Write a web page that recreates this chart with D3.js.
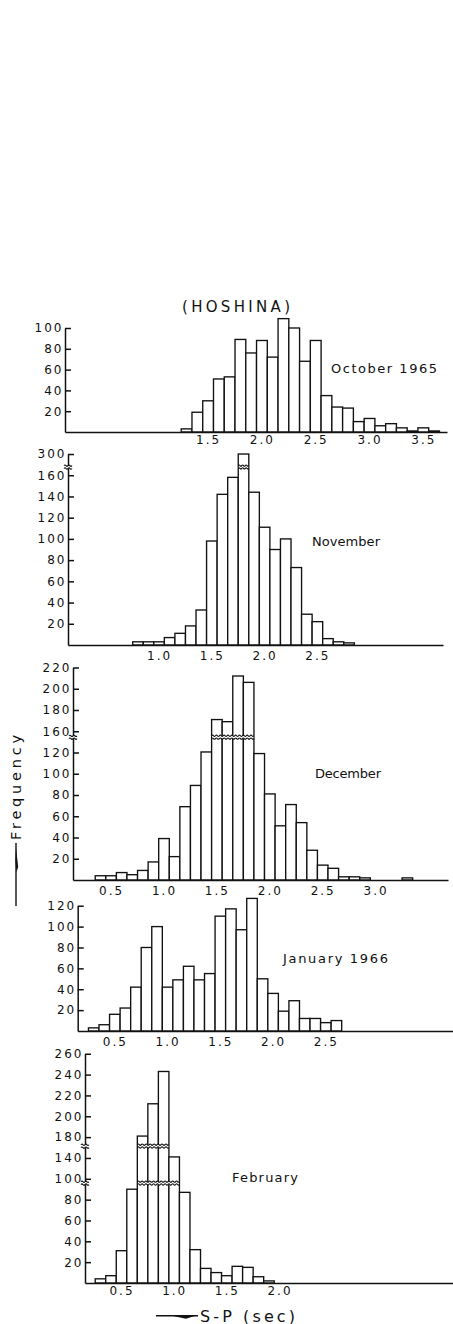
<!DOCTYPE html>
<html><head>
<meta charset="utf-8">
<title>Hoshina S-P histograms</title>
<script src="https://cdn.jsdelivr.net/npm/d3@7"></script>
<style>
  body { margin: 0; background: #fff; }
  text { font-family: "DejaVu Sans", sans-serif; fill: #111; }
  .axis path, .axis line { stroke: #111; stroke-width: 1.5; }
  .axis text { font-size: 12px; letter-spacing: 2px; }
  .bar { fill: #fff; stroke: #111; stroke-width: 1.35; }
</style>
</head>
<body>
<svg id="chart" width="453" height="1324"></svg>

<script>
// --- data: S-P bins (sec) and counts per month
const octBins   = [1.3,1.4,1.5,1.6,1.7,1.8,1.9,2.0,2.1,2.2,2.3,2.4,2.5,2.6,2.7,2.8,2.9,3.0,3.1,3.2,3.3,3.4,3.5,3.6];
const octCounts = [3,19,30,51,53,89,76,88,72,109,100,68,88,35,24,23,10,13,6,8,4,1,4,1];

const novBins   = [0.8,0.9,1.0,1.1,1.2,1.3,1.4,1.5,1.6,1.7,1.8,1.9,2.0,2.1,2.2,2.3,2.4,2.5,2.6,2.7,2.8];
const novCounts = [3,3,3,7,11,18,33,98,142,158,300,144,111,90,100,73,29,22,6,3,2];

const decBins   = [0.4,0.5,0.6,0.7,0.8,0.9,1.0,1.1,1.2,1.3,1.4,1.5,1.6,1.7,1.8,1.9,2.0,2.1,2.2,2.3,2.4,2.5,2.6,2.7,2.8,2.9,3.0,3.1,3.2,3.3];
const decCounts = [4,4,7,5,9,17,39,22,69,89,121,171,169,212,206,119,81,51,71,54,28,14,11,3,3,2,0,0,0,2];

const janBins   = [0.3,0.4,0.5,0.6,0.7,0.8,0.9,1.0,1.1,1.2,1.3,1.4,1.5,1.6,1.7,1.8,1.9,2.0,2.1,2.2,2.3,2.4,2.5,2.6];
const janCounts = [3,6,16,22,42,80,100,42,49,62,49,55,110,117,97,127,50,36,19,29,12,12,8,10];

const febBins   = [0.3,0.4,0.5,0.6,0.7,0.8,0.9,1.0,1.1,1.2,1.3,1.4,1.5,1.6,1.7,1.8,1.9];
const febCounts = [4,7,31,90,181,212,243,142,87,32,14,10,7,16,15,6,2];

// tick labels
const octYTicks = [20,40,60,80,100];
const novYTicks = [20,40,60,80,100,120,140,160,300];
const decYTicks = [20,40,60,80,100,120,160,180,200,220];
const janYTicks = [20,40,60,80,100,120];
const febYTicks = [20,40,60,80,100,140,180,200,220,240,260];

const octXTicks = [1.5,2.0,2.5,3.0,3.5];
const novXTicks = [1.0,1.5,2.0,2.5];
const decXTicks = [0.5,1.0,1.5,2.0,2.5,3.0];
const janXTicks = [0.5,1.0,1.5,2.0,2.5];
const febXTicks = [0.5,1.0,1.5,2.0];

// broken frequency axes: value where the axis jumps
const novBreaks = [215];
const decBreaks = [149];
const febBreaks = [96, 163];

const svg = d3.select("#chart");
svg.append("rect").attr("width", 453).attr("height", 1324).attr("fill", "#fff");

// layout of each panel (positions only)
const panels = [
  {bins: octBins, counts: octCounts, yt: octYTicks, xt: octXTicks, breaks: [],
   yDom: [0,100], yPos: [0,100], unit: 1.04, base: 432, left: 65, right: 447, lo: 0.17, hi: 3.72, pad: 3.7,
   label: "October 1965", lx: 331, ly: 372.7, lw: 106},
  {bins: novBins, counts: novCounts, yt: novYTicks, xt: novXTicks, breaks: novBreaks,
   yDom: [0,160,300], yPos: [0,160,180], unit: 1.061, base: 645, left: 68, right: 443, lo: 0.137, hi: 3.69, pad: 6.5,
   label: "November", lx: 312, ly: 545.5, lw: 68},
  {bins: decBins, counts: decCounts, yt: decYTicks, xt: decXTicks, breaks: decBreaks,
   yDom: [0,120,160,220], yPos: [0,120,140,200], unit: 1.0625, base: 880, left: 73, right: 448, lo: 0.14, hi: 3.684, pad: 6,
   label: "December", lx: 315, ly: 777.5, lw: 66},
  {bins: janBins, counts: janCounts, yt: janYTicks, xt: janXTicks, breaks: [],
   yDom: [0,120], yPos: [0,120], unit: 1.044, base: 1031, left: 77.7, right: 453, lo: 0.148, hi: 3.705, pad: 6.5,
   label: "January 1966", lx: 283, ly: 962.5, lw: 105},
  {bins: febBins, counts: febCounts, yt: febYTicks, xt: febXTicks, breaks: febBreaks,
   yDom: [0,100,140,180,260], yPos: [0,100,120,140,220], unit: 1.042, base: 1283, left: 85, right: 453, lo: 0.153, hi: 3.648, pad: 3.7,
   label: "February", lx: 232, ly: 1181.5, lw: 66}
];

// little wavy stroke, used for breaks
function wave(x0, x1, y) {
  const n = Math.max(1, Math.round((x1 - x0) / 4));
  const step = (x1 - x0) / n;
  let d = "M" + x0 + "," + y;
  for (let i = 0; i < n; i++) d += " q" + (step/4) + ",-1.3 " + (step/2) + ",0 t" + (step/2) + ",0";
  return d;
}

panels.forEach(p => {
  const x = d3.scaleLinear().domain([p.lo, p.hi]).range([p.left, p.right]);
  const y = d3.scaleLinear().domain(p.yDom).range(p.yPos.map(v => p.base - v * p.unit));
  const g = svg.append("g");

  const data = p.bins.map((b, i) => ({bin: b, n: p.counts[i]})).filter(d => d.n > 0);

  g.selectAll("rect.bar")
    .data(data)
    .join("rect")
      .attr("class", "bar")
      .attr("x", d => x(d.bin - 0.05))
      .attr("width", d => x(d.bin + 0.05) - x(d.bin - 0.05))
      .attr("y", d => y(d.n))
      .attr("height", d => p.base - y(d.n));

  // double wavy break lines across the tall bars
  p.breaks.forEach(bv => {
    const tall = data.filter(d => d.n > bv);
    const x0 = x(d3.min(tall, d => d.bin) - 0.05);
    const x1 = x(d3.max(tall, d => d.bin) + 0.05);
    const yb = y(bv);
    g.append("rect").attr("x", x0 + 0.6).attr("y", yb - 1.2).attr("width", x1 - x0 - 1.2).attr("height", 2.6).attr("fill", "#fff");
    [yb - 1.3, yb + 1.5].forEach(yy => {
      g.append("path").attr("d", wave(x0, x1, yy)).attr("fill", "none").attr("stroke", "#111").attr("stroke-width", 1.1);
    });
  });

  g.append("g")
    .attr("class", "axis")
    .attr("transform", "translate(0," + p.base + ")")
    .call(d3.axisBottom(x).tickValues(p.xt).tickSize(0).tickSizeOuter(0).tickPadding(p.pad).tickFormat(d3.format(".1f")));

  g.append("g")
    .attr("class", "axis")
    .attr("transform", "translate(" + p.left + ",0)")
    .call(d3.axisLeft(y).tickValues(p.yt).tickSize(-6).tickSizeOuter(0).tickPadding(1.5));

  // break marks on the frequency axis
  p.breaks.forEach(bv => {
    const yb = y(bv);
    g.append("rect").attr("x", p.left - 1.5).attr("y", yb - 1).attr("width", 3).attr("height", 2.4).attr("fill", "#fff");
    [yb - 1.2, yb + 1.6].forEach(yy => {
      g.append("path").attr("d", wave(p.left - 4, p.left + 4, yy)).attr("fill", "none").attr("stroke", "#111").attr("stroke-width", 1.1);
    });
  });

  g.append("text")
    .attr("x", p.lx).attr("y", p.ly)
    .attr("font-size", 13)
    .attr("textLength", p.lw).attr("lengthAdjust", "spacing")
    .text(p.label);
});

// station name
svg.append("text")
  .attr("x", 182).attr("y", 312)
  .attr("font-size", 15)
  .attr("textLength", 108).attr("lengthAdjust", "spacing")
  .text("(HOSHINA)");

// y title with its half arrow
svg.append("text")
  .attr("transform", "translate(20.7,840) rotate(-90)")
  .attr("font-size", 14.5)
  .attr("textLength", 105).attr("lengthAdjust", "spacing")
  .text("Frequency");
svg.append("line").attr("x1", 16).attr("x2", 16).attr("y1", 843).attr("y2", 906)
  .attr("stroke", "#111").attr("stroke-width", 1.4);
svg.append("path").attr("d", "M16,848 L18.2,867 L16.4,872 L15.4,860 Z").attr("fill", "#111");

// x title with its half arrow
svg.append("line").attr("x1", 156).attr("x2", 198).attr("y1", 1315.7).attr("y2", 1315.7)
  .attr("stroke", "#111").attr("stroke-width", 1.4);
svg.append("path").attr("d", "M172,1315.7 L197,1315.2 L186,1318.8 Z").attr("fill", "#111");
svg.append("text")
  .attr("x", 200).attr("y", 1321.5)
  .attr("font-size", 16)
  .attr("textLength", 95).attr("lengthAdjust", "spacing")
  .text("S-P (sec)");
</script>
</body>
</html>
